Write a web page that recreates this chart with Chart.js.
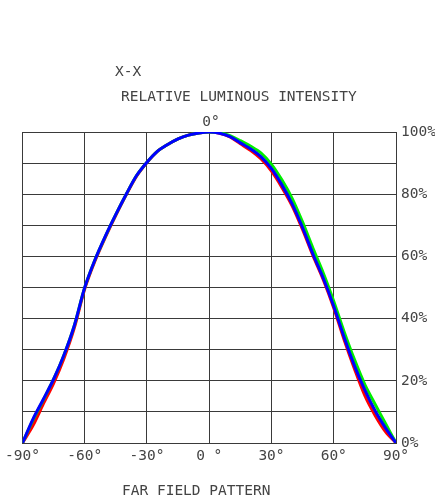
<!DOCTYPE html>
<html>
<head>
<meta charset="utf-8">
<script src="https://cdn.jsdelivr.net/npm/chart.js@4/dist/chart.umd.min.js"></script>
<style>
  html, body { margin: 0; padding: 0; background: #fff; }
  #wrap { width: 435px; height: 504px; }
</style>
</head>
<body>
<div id="wrap"><canvas id="chart" width="435" height="504"></canvas></div>
<script>
// angoli (gradi) e intensità relativa (%)
const angles = [-90,-85,-80,-75,-70,-65,-60,-55,-50,-45,-40,-35,-30,-25,-20,-15,-10,-5,0,
                5,10,15,20,25,30,35,40,45,50,55,60,65,70,75,80,85,90];
const redVals   = [0,5.5,12.5,19.2,27.2,37,49.5,58.6,66.2,73.2,79.8,85.8,90.2,93.8,96,97.8,99,99.7,100,
                   99.6,98.4,96.2,94,91.3,87.4,82.2,76.2,68.6,60.2,52.4,43.4,33.2,23.8,15.2,8.8,3.6,0];
const greenVals = [0,7.3,13.8,20.5,28.3,37.8,50,59,66.5,73.5,80,86,90.3,93.8,96,97.8,99,99.7,100,
                   99.8,98.8,97.2,95.4,93.2,89.6,84.6,78.6,71,62.6,54.6,45.6,35.8,26.8,18.8,12.4,6.2,0];
const blueVals  = [0,7.6,14,20.5,28.3,37.8,50,59,66.6,73.5,80,86,90.3,93.8,96,97.8,99,99.7,100,
                   99.6,98.5,96.5,94.5,92,88.2,83,76.8,69.2,60.7,52.9,44,34,24.8,17,10.3,4.8,0];
const xTicks = [-90,-60,-30,0,30,60,90];

const pts = (vals) => angles.map((a, i) => ({ x: a, y: vals[i] }));

// Chart.js disegna il dataset 0 sopra agli altri
const lineDs = (data, color) => ({
  data: pts(data),
  borderColor: color,
  borderWidth: 3,
  pointRadius: 0,
  tension: 0.3,
  fill: false
});

const FONT = '"DejaVu Sans Mono", monospace';

// testi fuori dal grafico
const extraText = {
  id: 'extraText',
  afterDraw(chart) {
    const ctx = chart.ctx;
    ctx.save();
    ctx.fillStyle = '#444';
    ctx.font = '14.5px ' + FONT;
    ctx.textBaseline = 'middle';
    ctx.textAlign = 'left';
    ctx.fillText('X-X', 115, 72);
    ctx.fillText('RELATIVE LUMINOUS INTENSITY', 121, 97);
    ctx.fillText('FAR FIELD PATTERN', 122, 491);
    ctx.textAlign = 'center';
    ctx.fillText('0°', 211, 122);
    ctx.restore();
  }
};

new Chart(document.getElementById('chart'), {
  type: 'line',
  data: {
    datasets: [
      lineDs(blueVals, '#0000ff'),
      lineDs(greenVals, '#00ee00'),
      lineDs(redVals, '#ff0000')
    ]
  },
  options: {
    responsive: false,
    animation: false,
    layout: { padding: { top: 132, left: 21, right: 0, bottom: 0 } },
    plugins: { legend: { display: false }, tooltip: { enabled: false } },
    scales: {
      x: {
        type: 'linear',
        min: -90, max: 90,
        afterBuildTicks: (s) => { s.ticks = xTicks.map(v => ({ value: v })); },
        afterFit: (s) => { s.height = 61; },
        grid: { color: '#3a3a3a', lineWidth: 1, drawTicks: false },
        border: { color: '#3a3a3a' },
        ticks: {
          padding: 5,
          color: '#444',
          font: { family: FONT, size: 14.5 },
          maxRotation: 0,
          callback: (v) => v === 0 ? '0 °' : v + '°'
        }
      },
      y: {
        position: 'right',
        min: 0, max: 100,
        afterFit: (s) => { s.width = 39; },
        grid: { color: '#3a3a3a', lineWidth: 1, drawTicks: false },
        border: { color: '#3a3a3a' },
        ticks: {
          stepSize: 10,
          padding: 5,
          color: '#444',
          font: { family: FONT, size: 14.5 },
          callback: (v) => v % 20 === 0 ? v + '%' : ''
        }
      }
    }
  },
  plugins: [extraText]
});
</script>
</body>
</html>
